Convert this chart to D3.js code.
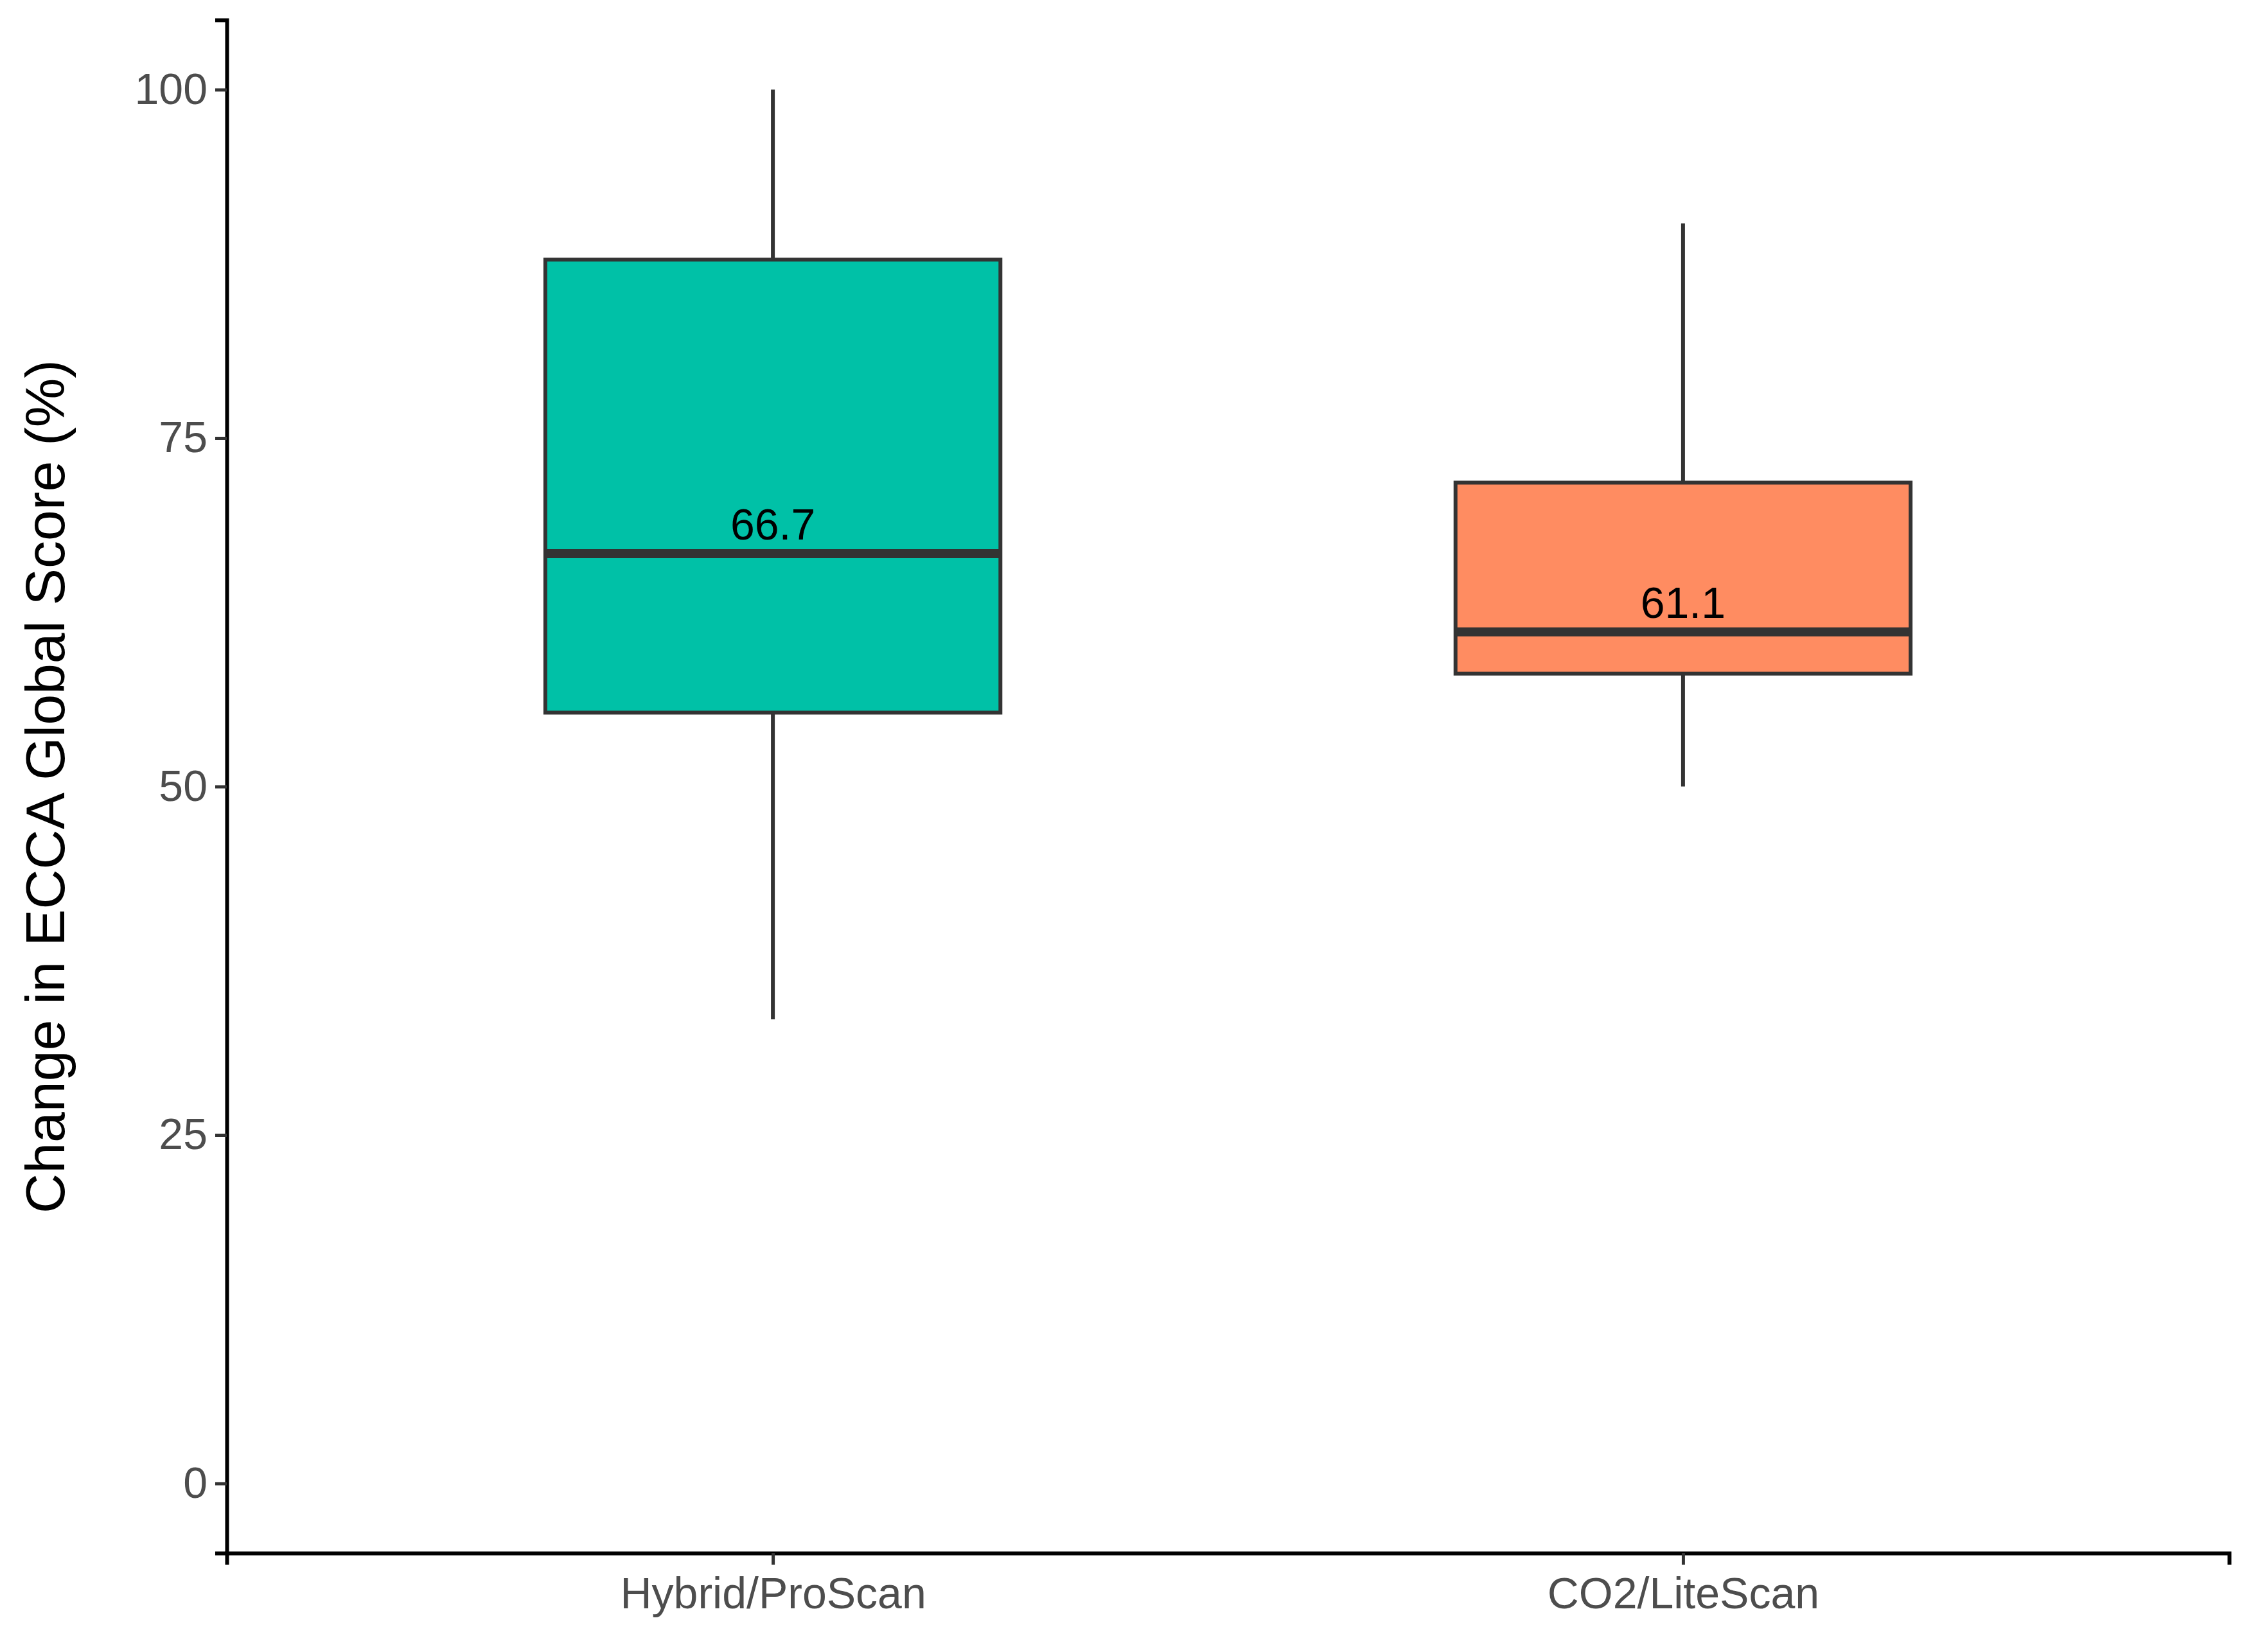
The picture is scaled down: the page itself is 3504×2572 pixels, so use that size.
<!DOCTYPE html>
<html>
<head>
<meta charset="utf-8">
<script src="https://cdn.jsdelivr.net/npm/d3@7.9.0/dist/d3.min.js"></script>
<style>
  body { margin: 0; background: #fff; }
  text { font-family: "Liberation Sans", Arial, sans-serif; }
</style>
</head>
<body>
<svg width="3504" height="2572"></svg>
<script>
// box stats
const groups = ['Hybrid/ProScan', 'CO2/LiteScan'];
const lowers = [33.3, 50.0];
const q1s = [55.3, 58.1];
const medians = [66.7, 61.1];
const q3s = [87.8, 71.8];
const uppers = [100.0, 90.4];
const fills = ['#00C1A7', '#FF8C61'];
const yTicks = [0, 25, 50, 75, 100];

const svg = d3.select('svg');
const plotLeft = 353, plotRight = 3470, plotTop = 31, plotBottom = 2418;

const y = d3.scaleLinear().domain([-5, 105]).range([plotBottom, plotTop]);
// discrete axis like ggplot: positions 1..n with 0.6 expansion
const x = d3.scaleLinear().domain([0.4, groups.length + 0.6]).range([plotLeft, plotRight]);
const boxW = x(1.5) - x(1);

const data = groups.map((g, i) => ({
  g, i, lo: lowers[i], q1: q1s[i], med: medians[i], q3: q3s[i], hi: uppers[i], fill: fills[i]
}));

const box = svg.selectAll('g.box').data(data).join('g').attr('class', 'box');

box.append('line')
  .attr('x1', d => x(d.i + 1)).attr('x2', d => x(d.i + 1))
  .attr('y1', d => y(d.hi)).attr('y2', d => y(d.q3))
  .attr('stroke', '#333').attr('stroke-width', 6);
box.append('line')
  .attr('x1', d => x(d.i + 1)).attr('x2', d => x(d.i + 1))
  .attr('y1', d => y(d.q1)).attr('y2', d => y(d.lo))
  .attr('stroke', '#333').attr('stroke-width', 6);
box.append('rect')
  .attr('x', d => x(d.i + 1) - boxW / 2).attr('width', boxW)
  .attr('y', d => y(d.q3)).attr('height', d => y(d.q1) - y(d.q3))
  .attr('fill', d => d.fill).attr('stroke', '#333').attr('stroke-width', 6);
box.append('line')
  .attr('x1', d => x(d.i + 1) - boxW / 2).attr('x2', d => x(d.i + 1) + boxW / 2)
  .attr('y1', d => y(d.med)).attr('y2', d => y(d.med))
  .attr('stroke', '#333').attr('stroke-width', 14);
box.append('text')
  .attr('x', d => x(d.i + 1)).attr('y', d => y(d.med) - 22)
  .attr('text-anchor', 'middle').attr('font-size', 68).attr('fill', '#000')
  .text(d => d.med.toFixed(1));

// axes
const yAxis = svg.append('g').attr('transform', `translate(${plotLeft},0)`)
  .call(d3.axisLeft(y).tickValues(yTicks).tickSize(18).tickPadding(12));
const xAxis = svg.append('g').attr('transform', `translate(0,${plotBottom})`)
  .call(d3.axisBottom(x).tickValues(groups.map((_, i) => i + 1))
    .tickFormat((_, i) => groups[i]).tickSize(18).tickPadding(20));

[yAxis, xAxis].forEach(a => {
  a.select('.domain').attr('stroke', '#000').attr('stroke-width', 6);
  a.selectAll('.tick line').attr('stroke', '#333').attr('stroke-width', 5);
  a.selectAll('.tick text').attr('font-size', 68).attr('fill', '#4d4d4d')
    .attr('font-family', '"Liberation Sans", Arial, sans-serif');
});

svg.append('text')
  .attr('transform', `translate(100,${(plotTop + plotBottom) / 2}) rotate(-90)`)
  .attr('text-anchor', 'middle').attr('font-size', 86).attr('fill', '#000')
  .text('Change in ECCA Global Score (%)');
</script>
</body>
</html>
